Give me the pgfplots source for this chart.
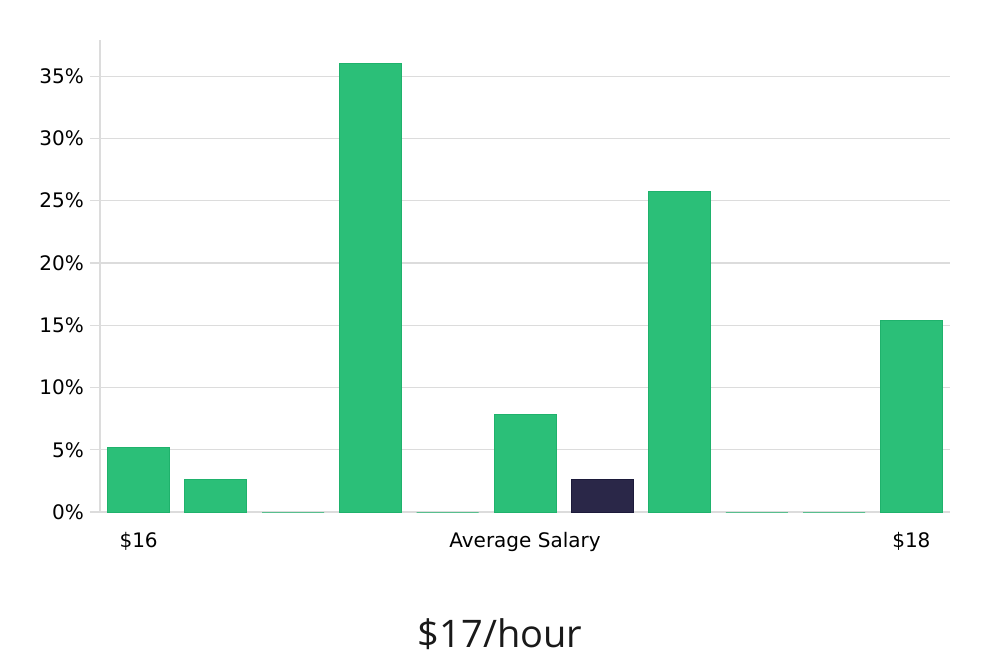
\documentclass[border=0pt]{standalone}
\usepackage{pgfplots}
\pgfplotsset{compat=1.18}
\usepackage{fontspec}
\setmainfont{DejaVu Sans}
\newfontfamily\titlefont{Open Sans}
\definecolor{barg}{HTML}{2BBF78}
\definecolor{bargedge}{HTML}{1FB26C}
\definecolor{bard}{HTML}{2A2748}
\definecolor{bardedge}{HTML}{1C1A3A}
\definecolor{gridc}{HTML}{DCDCDC}

\begin{document}
\begin{tikzpicture}
\useasboundingbox (-50pt,-74pt) rectangle (450pt,256pt);
\begin{axis}[
  at={(0,0)}, anchor=south west,
  scale only axis,
  width=425pt, height=236pt,
  xmin=-0.5, xmax=10.5,
  ymin=0, ymax=37.9,
  axis line style={draw=none},
  axis y line*=left,
  ytick={0,5,...,35},
  yticklabel={\pgfmathprintnumber{\tick}\%},
  /pgf/number format/assume math mode=true,
  ymajorgrids,
  grid style={gridc, line width=0.6pt},
  y tick style={gridc, line width=0.6pt},
  major tick length=5pt,
  tick align=outside,
  xtick={0,5,10},
  xticklabels={\$16,Average Salary,\$18},
  x tick style={draw=none},
  tick label style={font=\fontsize{10}{12}\selectfont, text=black},
  yticklabel style={xshift=0.5pt},
  xticklabel style={yshift=-1.5pt},
  ybar, bar width=31pt, bar shift=0pt,
  clip=false,
]
\draw[gridc, line width=0.6pt] (axis cs:-0.5,0) -- (axis cs:-0.5,37.9);
\addplot[fill=barg, draw=bargedge, line width=0.5pt] coordinates {
(0,5.14) (1,2.65) (2,0) (3,36.04) (4,0) (5,7.79) (7,25.77) (8,0) (9,0) (10,15.41)
};
\addplot[fill=bard, draw=bardedge, line width=0.5pt] coordinates {
(6,2.65)
};
\end{axis}
\node[font=\titlefont\fontsize{19}{22}\selectfont, text=black!90] at (200pt,-61pt) {\$17/hour};
\end{tikzpicture}
\end{document}
